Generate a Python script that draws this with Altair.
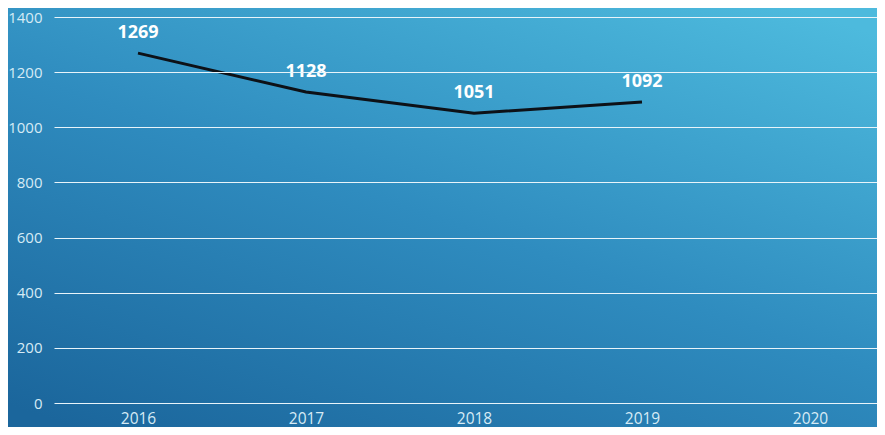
import altair as alt
import pandas as pd

years = ["2016", "2017", "2018", "2019", "2020"]
values = [1269, 1128, 1051, 1092, None]
y_ticks = [0, 200, 400, 600, 800, 1000, 1200, 1400]

df = pd.DataFrame({"year": years, "value": values})
df_line = df.dropna()

FONT = "Open Sans"

x_scale = alt.Scale(domain=years, range=[0, 840], paddingInner=0, paddingOuter=0)

x_enc = alt.X("year:N", scale=x_scale,
              axis=alt.Axis(title=None, labelAngle=0, domain=False, ticks=False, grid=False,
                            labelPadding=8, labelFontSize=15.5, labelColor="#d6ebf5",
                            labelFont=FONT, zindex=1))
y_enc = alt.Y("value:Q", scale=alt.Scale(domain=[0, 1400], nice=False),
              axis=alt.Axis(title=None, values=y_ticks, domain=False, ticks=False, format="d",
                            labelPadding=12, labelFontSize=15, labelColor="#d6ebf5",
                            labelFont=FONT, gridColor="#e8f4fa", gridWidth=1.2,
                            gridOpacity=1, zindex=1))

gradient = {
    "gradient": "linear",
    "x1": 0.15, "y1": 1, "x2": 0.85, "y2": 0,
    "stops": [
        {"offset": 0, "color": "#1b669c"},
        {"offset": 0.5, "color": "#2f8cbf"},
        {"offset": 1, "color": "#4dbadd"},
    ],
}

bg = alt.Chart(pd.DataFrame({"a": [0]})).mark_rect(fill=gradient, clip=False).encode(
    x=alt.value(-60), x2=alt.value(850), y=alt.value(-20), y2=alt.value(430)
)

line = alt.Chart(df_line).mark_line(color="#0d1117", strokeWidth=3).encode(x=x_enc, y=y_enc)

labels = alt.Chart(df_line).mark_text(
    dy=-20, fontSize=18, fontWeight="bold", color="#ffffff", font=FONT
).encode(x=alt.X("year:N", scale=x_scale), y="value:Q", text="value:Q")

chart = alt.layer(bg, line, labels).properties(
    width=823, height=386,
    autosize=alt.AutoSizeParams(type="none"),
    padding={"left": 46, "top": 9, "right": 0, "bottom": 24},
    background="#1e6ea3",
).configure_view(stroke=None)

chart.save("out.html", embed_options={"renderer": "svg", "actions": False})
